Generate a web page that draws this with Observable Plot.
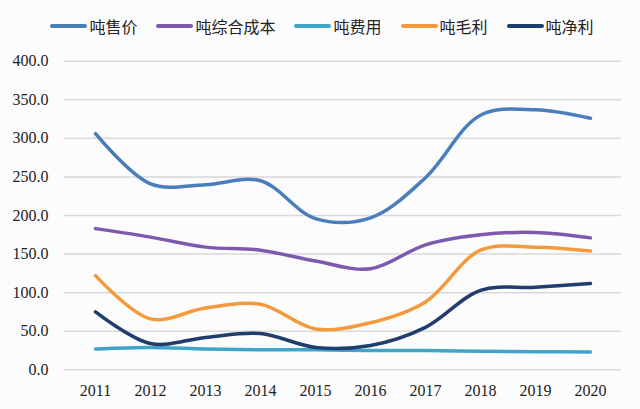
<!DOCTYPE html>
<html>
<head>
<meta charset="utf-8">
<script src="https://cdn.jsdelivr.net/npm/d3@7"></script>
<script src="https://cdn.jsdelivr.net/npm/@observablehq/plot@0.6"></script>
<style>
  body { margin: 0; background: #fdfcfd; width: 640px; height: 409px; overflow: hidden; }
  #legend { height: 44px; box-sizing: border-box; padding-top: 8px; display: flex; align-items: center; justify-content: center; font-family: "Noto Sans CJK SC", "Noto Sans", sans-serif; font-size: 16px; color: #222; padding-left: 4px; }
  .item { display: flex; align-items: center; margin: 0 9.5px; }
  .sw { width: 37px; height: 4px; border-radius: 2px; margin-right: 2px; }
  #chart svg text { font-family: "Liberation Serif", "Times New Roman", serif !important; }
</style>
</head>
<body>
<div id="legend"></div>
<div id="chart"></div>
<script>
const years = ["2011","2012","2013","2014","2015","2016","2017","2018","2019","2020"];
const seriesNames = ["吨售价","吨综合成本","吨费用","吨毛利","吨净利"];
const seriesColors = ["#4a7ebb","#7d5aae","#41a5c9","#f39a3c","#1f3d6d"];
const price  = [306, 241, 240, 245, 196, 197, 249, 330, 337, 326];
const cost   = [183, 172, 159, 155, 141, 131, 162, 175, 178, 171];
const fee    = [27, 29, 27, 26, 26, 25, 25, 24, 23.5, 23];
const gross  = [122, 66, 80, 85, 53, 61, 88, 155, 159, 154];
const net    = [75, 34, 42, 47, 29, 31.5, 55, 103, 107, 112];
const yTicks = [0, 50, 100, 150, 200, 250, 300, 350, 400];

const allSeries = [price, cost, fee, gross, net];
const data = [];
allSeries.forEach((vals, s) => vals.forEach((v, i) => data.push({year: years[i], value: v, series: seriesNames[s]})));

const legend = document.getElementById("legend");
seriesNames.forEach((n, i) => {
  const it = document.createElement("div");
  it.className = "item";
  it.innerHTML = `<div class="sw" style="background:${seriesColors[i]}"></div><span>${n}</span>`;
  legend.appendChild(it);
});

const chart = Plot.plot({
  width: 640,
  height: 365,
  marginTop: 16.7,
  marginBottom: 39.7,
  marginLeft: 64,
  marginRight: 19,
  style: {background: "transparent", fontFamily: "Liberation Serif, serif", fontSize: "16px", color: "#222"},
  x: {type: "point", domain: years, padding: 0.5, label: null},
  y: {domain: [0, 400], ticks: yTicks, label: null},
  color: {domain: seriesNames, range: seriesColors},
  marks: [
    Plot.ruleY(yTicks, {stroke: "#d9d9d9", strokeWidth: 1.5}),
    Plot.axisY(yTicks, {tickFormat: d => d.toFixed(1), tickSize: 0, tickPadding: 16, fontSize: 16, label: null}),
    Plot.axisX({tickSize: 0, tickPadding: 15, fontSize: 16, label: null}),
    ...seriesNames.map((n, i) => Plot.line(data.filter(d => d.series === n), {
      x: "year", y: "value", stroke: seriesColors[i], strokeWidth: 3.5, curve: "catmull-rom"
    }))
  ]
});
document.getElementById("chart").appendChild(chart);
</script>
</body>
</html>
